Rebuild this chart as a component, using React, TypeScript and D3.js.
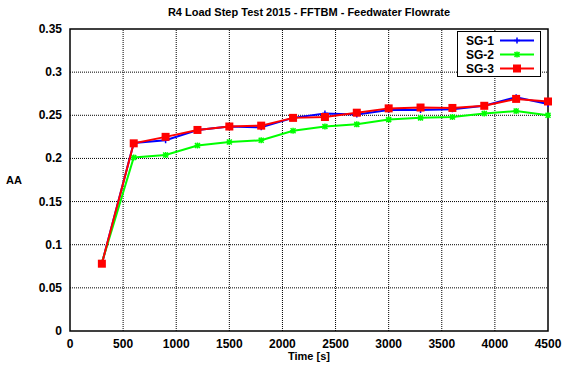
import * as d3 from 'd3';
import { useEffect, useRef } from 'react';

const times = [300, 600, 900, 1200, 1500, 1800, 2100, 2400, 2700, 3000, 3300, 3600, 3900, 4200, 4500];
const sg1 = [0.078, 0.218, 0.221, 0.233, 0.237, 0.236, 0.247, 0.252, 0.251, 0.256, 0.256, 0.257, 0.261, 0.271, 0.263];
const sg2 = [0.079, 0.201, 0.204, 0.215, 0.219, 0.221, 0.232, 0.237, 0.2395, 0.245, 0.247, 0.248, 0.252, 0.255, 0.250];
const sg3 = [0.078, 0.2175, 0.225, 0.233, 0.237, 0.238, 0.247, 0.248, 0.253, 0.258, 0.259, 0.2585, 0.261, 0.269, 0.266];
const xTicks = [0, 500, 1000, 1500, 2000, 2500, 3000, 3500, 4000, 4500];
const yTicks = [0, 0.05, 0.1, 0.15, 0.2, 0.25, 0.3, 0.35];

const series = [
  { name: 'SG-1', values: sg1, color: '#0000ff', marker: 'plus' },
  { name: 'SG-2', values: sg2, color: '#00ff00', marker: 'star' },
  { name: 'SG-3', values: sg3, color: '#ff0000', marker: 'square' },
];

const W = 564;
const H = 372;
const margin = { top: 29, right: 16, bottom: 41, left: 70 };
const font = 'Liberation Sans, Arial, sans-serif';

function drawMarker(g: d3.Selection<SVGGElement, unknown, null, undefined>, kind: string, x: number, y: number, color: string) {
  if (kind === 'square') {
    g.append('rect').attr('x', x - 4).attr('y', y - 4).attr('width', 8).attr('height', 8).attr('fill', color);
  } else if (kind === 'plus') {
    g.append('path')
      .attr('d', `M${x - 3},${y}H${x + 3}M${x},${y - 3}V${y + 3}`)
      .attr('stroke', color)
      .attr('stroke-width', 1.5);
  } else {
    g.append('path')
      .attr('d', `M${x - 3},${y}H${x + 3}M${x},${y - 3}V${y + 3}M${x - 2.5},${y - 2.5}L${x + 2.5},${y + 2.5}M${x - 2.5},${y + 2.5}L${x + 2.5},${y - 2.5}`)
      .attr('stroke', color)
      .attr('stroke-width', 1.5);
  }
}

export default function App() {
  const svgRef = useRef<SVGSVGElement>(null);

  useEffect(() => {
    if (!svgRef.current) return;
    const svg = d3.select(svgRef.current);
    svg.selectAll('*').remove();

    const x = d3.scaleLinear().domain([0, 4500]).range([margin.left, W - margin.right]);
    const y = d3.scaleLinear().domain([0, 0.35]).range([H - margin.bottom, margin.top]);

    svg.append('rect').attr('width', W).attr('height', H).attr('fill', '#fff');

    // grid
    const grid = svg.append('g');
    xTicks.slice(1, -1).forEach((t) => {
      grid.append('line')
        .attr('x1', x(t)).attr('x2', x(t))
        .attr('y1', y(0)).attr('y2', y(0.35))
        .attr('stroke', '#000').attr('stroke-width', 1).attr('stroke-dasharray', '1,1');
    });
    yTicks.slice(1, -1).forEach((t) => {
      grid.append('line')
        .attr('x1', x(0)).attr('x2', x(4500))
        .attr('y1', y(t)).attr('y2', y(t))
        .attr('stroke', '#000').attr('stroke-width', 1).attr('stroke-dasharray', '1,1');
    });

    // frame
    svg.append('rect')
      .attr('x', x(0)).attr('y', y(0.35))
      .attr('width', x(4500) - x(0)).attr('height', y(0) - y(0.35))
      .attr('fill', 'none').attr('stroke', '#000').attr('stroke-width', 1.5);

    // tick labels
    xTicks.forEach((t) => {
      svg.append('text')
        .attr('x', x(t)).attr('y', y(0) + 17)
        .attr('text-anchor', 'middle')
        .style('font', `bold 12px ${font}`)
        .text(String(t));
    });
    yTicks.forEach((t) => {
      svg.append('text')
        .attr('x', x(0) - 8).attr('y', y(t) + 4)
        .attr('text-anchor', 'end')
        .style('font', `bold 12px ${font}`)
        .text(String(t));
    });

    // series
    const line = d3.line<number>().x((_, i) => x(times[i])).y((d) => y(d));
    series.forEach((s) => {
      svg.append('path')
        .attr('d', line(s.values) || '')
        .attr('fill', 'none')
        .attr('stroke', s.color)
        .attr('stroke-width', 2);
      const mg = svg.append('g');
      s.values.forEach((v, i) => drawMarker(mg, s.marker, x(times[i]), y(v), s.color));
    });

    // legend
    const lg = svg.append('g');
    lg.append('rect')
      .attr('x', 457.5).attr('y', 31.5).attr('width', 83).attr('height', 45)
      .attr('fill', '#fff').attr('stroke', '#000').attr('stroke-width', 1);
    series.forEach((s, i) => {
      const ly = 40.5 + i * 14;
      lg.append('text')
        .attr('x', 494).attr('y', ly + 4.5)
        .attr('text-anchor', 'end')
        .style('font', `bold 12px ${font}`)
        .text(s.name);
      lg.append('line')
        .attr('x1', 500).attr('x2', 534).attr('y1', ly).attr('y2', ly)
        .attr('stroke', s.color).attr('stroke-width', 2);
      drawMarker(lg, s.marker, 517, ly, s.color);
    });

    // titles
    svg.append('text')
      .attr('x', 309).attr('y', 16)
      .attr('text-anchor', 'middle')
      .style('font', `bold 11px ${font}`)
      .text('R4 Load Step Test 2015 - FFTBM - Feedwater Flowrate');
    svg.append('text')
      .attr('x', 309).attr('y', 360)
      .attr('text-anchor', 'middle')
      .style('font', `bold 11px ${font}`)
      .text('Time [s]');
    svg.append('text')
      .attr('x', 14).attr('y', 184)
      .attr('text-anchor', 'middle')
      .style('font', `bold 11px ${font}`)
      .text('AA');
  }, []);

  return (
    <svg
      ref={svgRef}
      width={W}
      height={H}
      style={{ position: 'fixed', left: 0, top: 0, display: 'block' }}
    />
  );
}
